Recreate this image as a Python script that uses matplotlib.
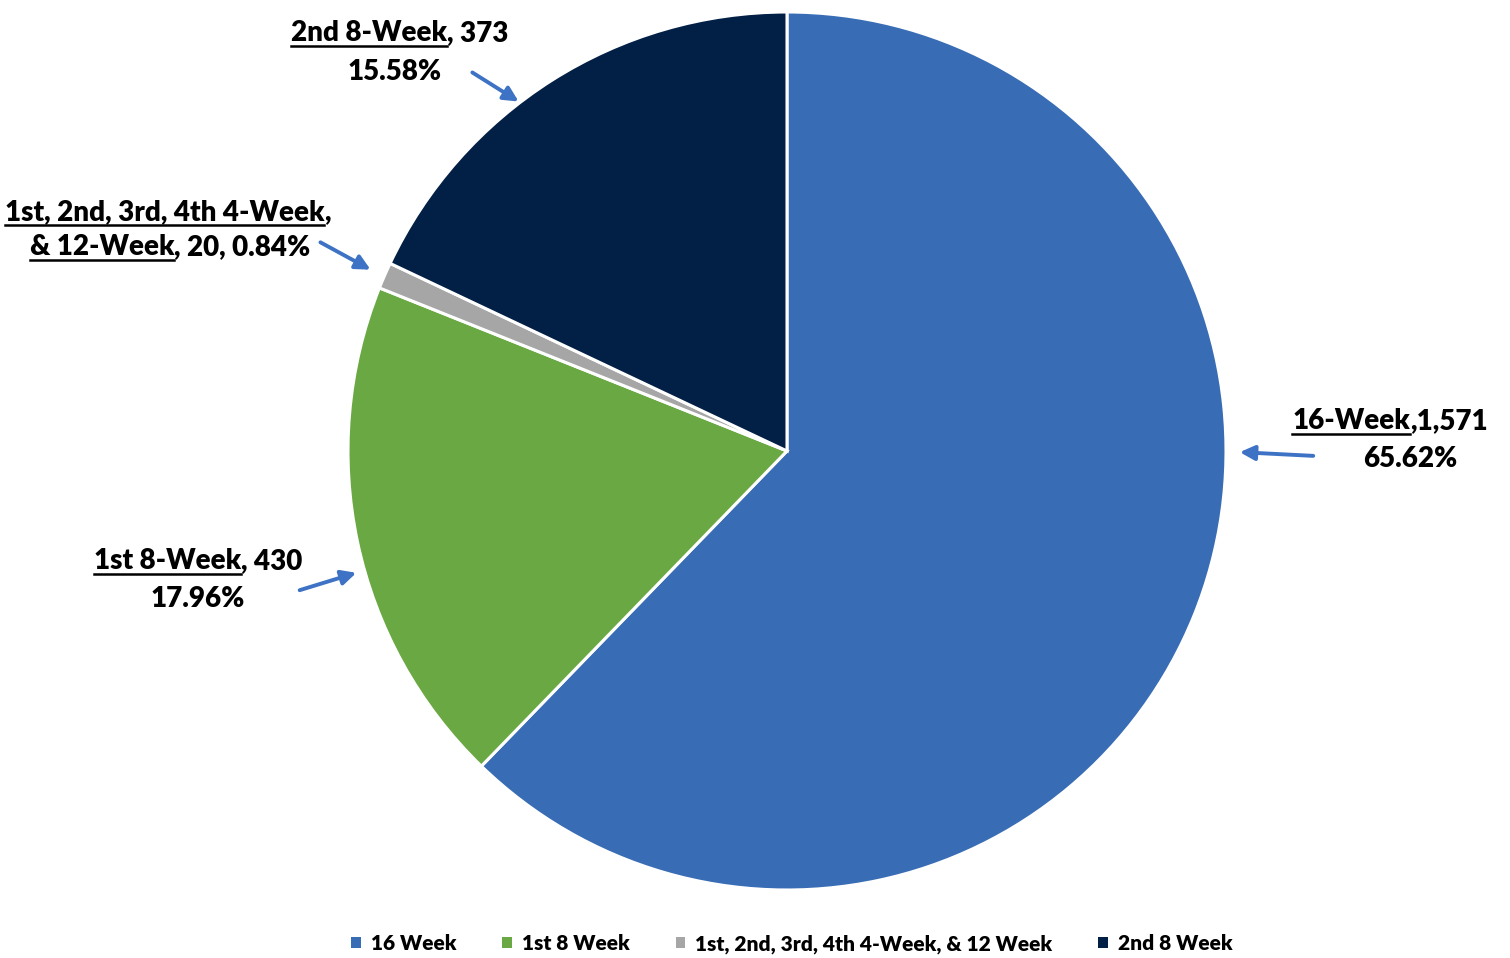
import matplotlib
matplotlib.use('Agg')
import matplotlib.pyplot as plt
from matplotlib.patches import Patch, FancyArrowPatch
from matplotlib.lines import Line2D
from matplotlib.transforms import IdentityTransform

plt.rcParams['font.family'] = ['Lato', 'DejaVu Sans']

# data
legend_names = ['16 Week', '1st 8 Week', '1st, 2nd, 3rd, 4th 4-Week, & 12 Week', '2nd 8 Week']
counts = [1571, 430, 20, 373]
pcts = ['65.62%', '17.96%', '0.84%', '15.58%']
# wedge shares as drawn in the picture (%)
shares = [62.25, 18.8, 0.97, 17.97]
colors = ['#386cb5', '#6aa843', '#a6a6a6', '#021f45']

W, H = 1510, 958
fig = plt.figure(figsize=(W / 100, H / 100), dpi=100)

# pie: centre ~ (787, 451) px, radius ~ 439 px
cx, cy, rad = 787, 451, 439
ax = fig.add_axes([(cx - rad) / W, (H - cy - rad) / H, 2 * rad / W, 2 * rad / H])
ax.pie(shares, colors=colors, startangle=90, counterclock=False,
       wedgeprops=dict(edgecolor='white', linewidth=2.2))
ax.set_xlim(-1, 1)
ax.set_ylim(-1, 1)
ax.set_aspect('equal')
ax.axis('off')

renderer = fig.canvas.get_renderer()
px = IdentityTransform()


def label_line(xc, ytop, parts, size=20):
    # ytop: baseline in pixels measured from the top of the image
    y = H - ytop
    texts = []
    for s, ul in parts:
        t = fig.text(0, 0, s, fontsize=size, fontweight='heavy', ha='left',
                     va='baseline', transform=px)
        texts.append((t, ul))
    widths = [t.get_window_extent(renderer).width for t, _ in texts]
    x = xc - sum(widths) / 2
    for (t, ul), w in zip(texts, widths):
        t.set_position((x, y))
        if ul:
            fig.add_artist(Line2D([x, x + w], [y - 5, y - 5], transform=px,
                                  color='black', lw=1.8))
        x += w


def arrow(x0, y0, x1, y1):
    fig.add_artist(FancyArrowPatch((x0, H - y0), (x1, H - y1), transform=px,
                                   arrowstyle='-|>', mutation_scale=22,
                                   color='#3d72c4', lw=2.8))


# 2nd 8-Week
label_line(400, 41, [('2nd 8-Week', True), (', ' + str(counts[3]), False)])
label_line(395, 80, [(pcts[3], False)])
arrow(470, 71, 521, 103)

# small group
label_line(168, 220, [('1st, 2nd, 3rd, 4th 4-Week', True), (',', False)])
label_line(170, 255, [('& 12-Week', True), (', ' + str(counts[2]) + ', ' + pcts[2], False)])
arrow(318, 241, 373, 271)

# 16-Week
label_line(1390, 429, [('16-Week', True), (',' + format(counts[0], ','), False)])
label_line(1410, 467, [(pcts[0], False)])
arrow(1316, 456, 1237, 452)

# 1st 8-Week
label_line(198, 569, [('1st 8-Week', True), (', ' + str(counts[1]), False)])
label_line(198, 607, [(pcts[1], False)])
arrow(297, 591, 359, 572)

handles = [Patch(facecolor=c, edgecolor='none') for c in colors]
fig.legend(handles, legend_names, loc='center', bbox_to_anchor=(792 / W, 1 - 944 / H),
           ncol=4, frameon=False, handlelength=0.45, handleheight=0.45,
           handletextpad=0.5, columnspacing=2.2,
           prop=dict(size=15, weight='heavy'))

fig.savefig('out.png', dpi=100)
